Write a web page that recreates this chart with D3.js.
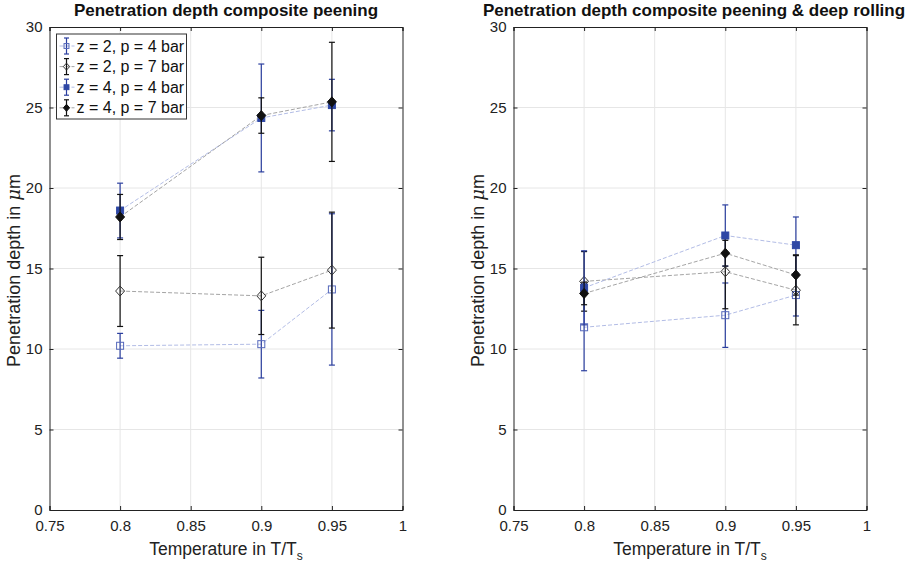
<!DOCTYPE html>
<html>
<head>
<meta charset="utf-8">
<title>Penetration depth</title>
<script src="https://d3js.org/d3.v7.min.js"></script>
<style>
  body { margin: 0; background: #fff; font-family: "Liberation Sans", Arial, Helvetica, sans-serif; }
  text { font-family: "Liberation Sans", Arial, Helvetica, sans-serif; }
  .grid line { stroke: #e6e6e6; stroke-width: 1; }
  .tick text { font-size: 15px; fill: #222; }
</style>
</head>
<body>
<svg id="fig" width="915" height="564"></svg>
<script>
// temperatures T/Ts
var temps = [0.8, 0.9, 0.95];
var seriesNames = ["z = 2, p = 4 bar", "z = 2, p = 7 bar", "z = 4, p = 4 bar", "z = 4, p = 7 bar"];
var xTicks = [0.75, 0.8, 0.85, 0.9, 0.95, 1];
var yTicks = [0, 5, 10, 15, 20, 25, 30];

// composite peening
var cpMean = [
  [10.2, 10.3, 13.7],
  [13.6, 13.3, 14.9],
  [18.6, 24.35, 25.15],
  [18.2, 24.5, 25.35]
];
var cpErr = [
  [0.77, 2.1, 4.7],
  [2.2, 2.4, 3.6],
  [1.7, 3.35, 1.6],
  [1.4, 1.1, 3.7]
];

// composite peening & deep rolling
var drMean = [
  [11.35, 12.1, 13.35],
  [14.2, 14.8, 13.65],
  [13.8, 17.05, 16.45],
  [13.45, 15.95, 14.6]
];
var drErr = [
  [2.7, 2.0, 1.3],
  [1.85, 2.3, 2.15],
  [2.3, 1.9, 1.75],
  [0.7, 0.8, 1.25]
];

var styles = [
  {err: "#2b3f9f", line: "#a9b4e2", shape: "square", fill: "none", stroke: "#5568bb"},
  {err: "#111", line: "#9a9a9a", shape: "diamond", fill: "none", stroke: "#333"},
  {err: "#2b3f9f", line: "#a9b4e2", shape: "square", fill: "#2e47a5", stroke: "#2e47a5"},
  {err: "#111", line: "#9a9a9a", shape: "diamond", fill: "#111", stroke: "#111"}
];

var svg = d3.select("#fig");

function marker(g, shape, cx, cy, st, s) {
  s = s || 1;
  if (shape == "square") {
    var h = 3.5 * s;
    g.append("rect").attr("x", cx - h).attr("y", cy - h).attr("width", 2 * h).attr("height", 2 * h)
      .attr("fill", st.fill).attr("stroke", st.stroke).attr("stroke-width", 1);
  } else {
    var a = 5 * s, b = 4.5 * s;
    g.append("path").attr("d", "M" + cx + "," + (cy - a) + "L" + (cx + b) + "," + cy + "L" + cx + "," + (cy + a) + "L" + (cx - b) + "," + cy + "Z")
      .attr("fill", st.fill).attr("stroke", st.stroke).attr("stroke-width", 1);
  }
}

function panel(left, title, means, errs, showLegend) {
  var top = 27, bottom = 510, w = 353;
  var x = d3.scaleLinear().domain([0.75, 1]).range([left, left + w]);
  var y = d3.scaleLinear().domain([0, 30]).range([bottom, top]);
  var g = svg.append("g");

  // grid
  var grid = g.append("g").attr("class", "grid");
  grid.selectAll(".gx").data(xTicks.slice(1, -1)).enter().append("line")
    .attr("x1", d => x(d)).attr("x2", d => x(d)).attr("y1", top).attr("y2", bottom);
  grid.selectAll(".gy").data(yTicks.slice(1, -1)).enter().append("line")
    .attr("x1", left).attr("x2", left + w).attr("y1", d => y(d)).attr("y2", d => y(d));

  // axes with inward ticks
  var xa = g.append("g").attr("transform", "translate(0," + bottom + ")")
    .call(d3.axisBottom(x).tickValues(xTicks).tickSize(-4).tickPadding(8).tickFormat(d3.format("")));
  var xa2 = g.append("g").attr("transform", "translate(0," + top + ")")
    .call(d3.axisTop(x).tickValues(xTicks).tickSize(-4).tickFormat(""));
  var ya = g.append("g").attr("transform", "translate(" + left + ",0)")
    .call(d3.axisLeft(y).tickValues(yTicks).tickSize(-4).tickPadding(7));
  var ya2 = g.append("g").attr("transform", "translate(" + (left + w) + ",0)")
    .call(d3.axisRight(y).tickValues(yTicks).tickSize(-4).tickFormat(""));
  [xa, xa2, ya, ya2].forEach(function(a) {
    a.select(".domain").attr("stroke", "#222");
    a.selectAll(".tick line").attr("stroke", "#222");
  });
  xa.selectAll(".tick text").attr("dy", "0.85em");

  // data
  means.forEach(function(m, i) {
    var st = styles[i];
    var sg = g.append("g");
    sg.append("path").datum(m)
      .attr("d", d3.line().x((d, j) => x(temps[j])).y(d => y(d)))
      .attr("fill", "none").attr("stroke", st.line).attr("stroke-width", 0.9)
      .attr("stroke-dasharray", "4,2");
    m.forEach(function(v, j) {
      var cx = x(temps[j]), e = errs[i][j];
      sg.append("line").attr("x1", cx).attr("x2", cx).attr("y1", y(v - e)).attr("y2", y(v + e))
        .attr("stroke", st.err).attr("stroke-width", 1.2);
      [v - e, v + e].forEach(function(c) {
        sg.append("line").attr("x1", cx - 3).attr("x2", cx + 3).attr("y1", y(c)).attr("y2", y(c))
          .attr("stroke", st.err).attr("stroke-width", 1.2);
      });
      marker(sg, st.shape, cx, y(v), st);
    });
  });

  // titles
  g.append("text").attr("x", left + w / 2 + (showLegend ? 0 : 4)).attr("y", 16).attr("text-anchor", "middle")
    .attr("font-size", "17px").attr("font-weight", "bold").attr("fill", "#111").text(title);
  g.append("text").attr("x", left + w / 2).attr("y", 555).attr("text-anchor", "middle")
    .attr("font-size", "17.5px").attr("fill", "#222")
    .call(t => { t.append("tspan").text("Temperature in T/T"); t.append("tspan").attr("font-size", "12px").attr("dy", 5).text("s"); });
  g.append("text").attr("transform", "translate(" + (left - 30) + "," + ((top + bottom) / 2 + 2) + ") rotate(-90)")
    .attr("text-anchor", "middle").attr("font-size", "18px").attr("fill", "#222")
    .call(t => {
      t.append("tspan").text("Penetration depth in ");
      t.append("tspan").attr("font-style", "italic").attr("font-family", "DejaVu Serif, serif").text("\u03bc");
      t.append("tspan").text("m");
    });

  if (showLegend) {
    var lg = g.append("g");
    lg.append("rect").attr("x", left + 7).attr("y", 34).attr("width", 130).attr("height", 85)
      .attr("fill", "#fff").attr("stroke", "#333").attr("stroke-width", 1);
    seriesNames.forEach(function(n, i) {
      var st = styles[i], cy = 46 + i * 20.6, cx = left + 17;
      lg.append("line").attr("x1", left + 10).attr("x2", left + 25).attr("y1", cy).attr("y2", cy)
        .attr("stroke", st.line).attr("stroke-width", 0.9).attr("stroke-dasharray", "4,2");
      lg.append("line").attr("x1", cx).attr("x2", cx).attr("y1", cy - 8).attr("y2", cy + 8)
        .attr("stroke", st.err).attr("stroke-width", 1.2);
      [cy - 8, cy + 8].forEach(function(c) {
        lg.append("line").attr("x1", cx - 2.5).attr("x2", cx + 2.5).attr("y1", c).attr("y2", c)
          .attr("stroke", st.err).attr("stroke-width", 1.2);
      });
      marker(lg, st.shape, cx, cy, st, 0.7);
      lg.append("text").attr("x", left + 27).attr("y", cy + 5.5).attr("font-size", "16px").attr("fill", "#111").text(n);
    });
  }
}

panel(49.5, "Penetration depth composite peening", cpMean, cpErr, true);
panel(513.5, "Penetration depth composite peening & deep rolling", drMean, drErr, false);
</script>
</body>
</html>
